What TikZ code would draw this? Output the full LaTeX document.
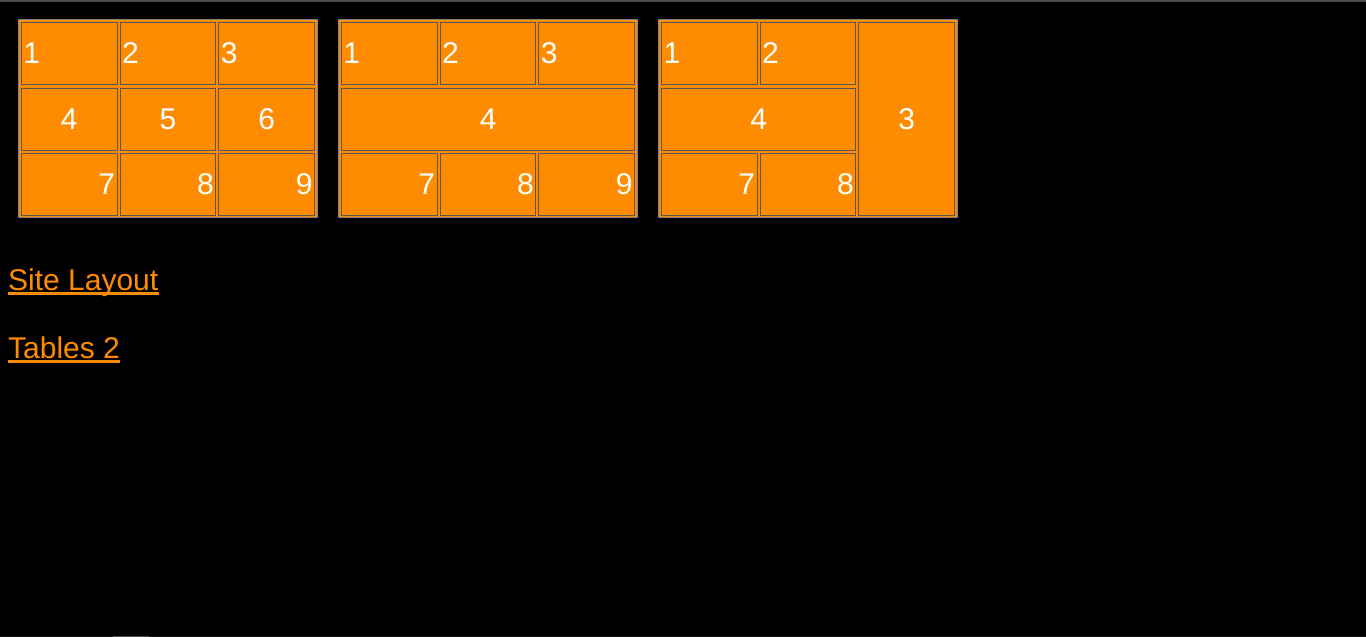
\documentclass[tikz,border=0pt]{standalone}
\usepackage{fontspec}
\newfontfamily\arialfont{Liberation Sans}
\definecolor{tblorange}{HTML}{FF8C00}
\definecolor{rimgray}{HTML}{808080}
\definecolor{celledge}{HTML}{555555}
\definecolor{bargray}{HTML}{4A4A4A}
\definecolor{faintgray}{HTML}{151515}

\begin{document}
\begin{tikzpicture}[x=1pt,y=-1pt]
		\fill[black] (0,0) rectangle (1366,637);
		\useasboundingbox (0,0) rectangle (1366,637);
		\fill[bargray] (0,0) rectangle (1366,1.5);
		\fill[faintgray] (0,636) rectangle (1366,637);
		\fill[bargray] (113,635.8) rectangle (149,637);
		
		\tikzstyle{frame} = [fill=tblorange, draw=rimgray, line width=1.2pt]
		\draw[frame] (18.6,19.6) rectangle (317.4,217.6);
		\draw[frame] (338.6,19.6) rectangle (637.4,217.6);
		\draw[frame] (658.6,19.6) rectangle (957.4,217.6);
		
		\begin{scope}[every node/.style={rectangle,draw=celledge,fill=tblorange,line width=1pt,inner sep=2pt,text width=91.67pt,minimum height=62pt,text=white,font=\arialfont\fontsize{30}{36}\selectfont}]
			% first table
			\node[align=left] (Ta1) at (69.33,53.5) {1};
			\node[align=left] (Ta2) at (168,53.5) {2};
			\node[align=left] (Ta3) at (266.67,53.5) {3};
			\node[align=center] (Ta4) at (69.33,119) {4};
			\node[align=center] (Ta5) at (168,119) {5};
			\node[align=center] (Ta6) at (266.67,119) {6};
			\node[align=right] (Ta7) at (69.33,184.5) {7};
			\node[align=right] (Ta8) at (168,184.5) {8};
			\node[align=right] (Ta9) at (266.67,184.5) {9};
			
			% second table
			\node[align=left] (Tb1) at (389.33,53.5) {1};
			\node[align=left] (Tb2) at (488,53.5) {2};
			\node[align=left] (Tb3) at (586.67,53.5) {3};
			\node[align=center,text width=289.33pt] (Tb4) at (488.17,119) {4};
			\node[align=right] (Tb7) at (389.33,184.5) {7};
			\node[align=right] (Tb8) at (488,184.5) {8};
			\node[align=right] (Tb9) at (586.67,184.5) {9};
			
			% third table
			\node[align=left] (Tc1) at (709.33,53.5) {1};
			\node[align=left] (Tc2) at (808,53.5) {2};
			\node[align=center,minimum height=193pt] (Tc3) at (906.67,119) {3};
			\node[align=center,text width=190.33pt] (Tc4) at (758.67,119) {4};
			\node[align=right] (Tc7) at (709.33,184.5) {7};
			\node[align=right] (Tc8) at (808,184.5) {8};
		\end{scope}
		
		\tikzstyle{link} = [inner sep=0pt,text=tblorange,font=\arialfont\fontsize{30}{36}\selectfont]
		\node[link,anchor=base west] (site) at (8,290) {Site Layout};
		\node[link,anchor=base west] (tables) at (8,358) {Tables 2};
		
		\tikzstyle{uline} = [draw=tblorange,line width=2.4pt]
		\draw[uline] ([yshift=-3.4pt]site.base west) -- ([yshift=-3.4pt]site.base east);
		\draw[uline] ([yshift=-3.4pt]tables.base west) -- ([yshift=-3.4pt]tables.base east);
		
	\end{tikzpicture}
\end{document}
